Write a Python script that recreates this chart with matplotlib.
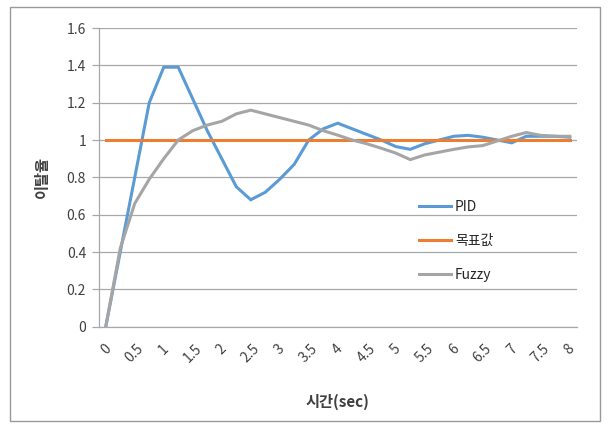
import matplotlib
matplotlib.use("Agg")
import matplotlib.pyplot as plt
from matplotlib.patches import Rectangle

plt.rcParams['font.family'] = ['Noto Sans CJK KR', 'DejaVu Sans']

# Time samples (sec), every 0.25 s
time = [0, 0.25, 0.5, 0.75, 1, 1.25, 1.5, 1.75, 2, 2.25, 2.5, 2.75, 3, 3.25,
        3.5, 3.75, 4, 4.25, 4.5, 4.75, 5, 5.25, 5.5, 5.75, 6, 6.25, 6.5, 6.75,
        7, 7.25, 7.5, 7.75, 8]

pid = [0, 0.40, 0.80, 1.20, 1.39, 1.39, 1.22, 1.05, 0.90, 0.75, 0.68, 0.72,
       0.79, 0.87, 1.00, 1.06, 1.09, 1.06, 1.03, 1.00, 0.965, 0.95, 0.98,
       1.00, 1.02, 1.025, 1.015, 1.00, 0.985, 1.02, 1.02, 1.02, 1.015]

target = [1.0] * 33

fuzzy = [0, 0.42, 0.66, 0.79, 0.90, 1.00, 1.05, 1.08, 1.10, 1.14, 1.16, 1.14,
         1.12, 1.10, 1.08, 1.05, 1.026, 1.00, 0.98, 0.956, 0.93, 0.895, 0.92,
         0.935, 0.95, 0.963, 0.97, 0.995, 1.02, 1.04, 1.025, 1.02, 1.02]

tick_pos = [0, 0.5, 1, 1.5, 2, 2.5, 3, 3.5, 4, 4.5, 5, 5.5, 6, 6.5, 7, 7.5, 8]
tick_labels = ["0", "0.5", "1", "1.5", "2", "2.5", "3", "3.5", "4", "4.5",
               "5", "5.5", "6", "6.5", "7", "7.5", "8"]
y_ticks = [0, 0.2, 0.4, 0.6, 0.8, 1, 1.2, 1.4, 1.6]
y_labels = ["0", "0.2", "0.4", "0.6", "0.8", "1", "1.2", "1.4", "1.6"]

W, H = 609, 428
fig = plt.figure(figsize=(W / 100, H / 100), dpi=100)
fig.patch.set_facecolor("white")

# outer chart frame
fig.patches.append(Rectangle((10 / W, 1 - 421 / H), 590 / W, 414 / H,
                             transform=fig.transFigure, fill=False,
                             edgecolor="#9a9a9a", linewidth=1.0))

ax = fig.add_axes([98.5 / W, 1 - 326.7 / H, (577 - 98.5) / W, (326.7 - 28) / H])

grid_c = "#a8a8a8"
text_c = "#404040"

ax.plot(time, pid, color="#5B9BD5", lw=2.2, label="PID", zorder=3,
        solid_joinstyle="miter")
ax.plot(time, target, color="#ED7D31", lw=2.2, label="목표값", zorder=4)
ax.plot(time, fuzzy, color="#A5A5A5", lw=2.2, label="Fuzzy", zorder=5,
        solid_joinstyle="miter")

ax.set_xlim(-0.125, 8.125)
ax.set_ylim(0, 1.6)
ax.set_yticks(y_ticks)
ax.set_yticklabels(y_labels, fontsize=10, color=text_c)
ax.set_xticks(tick_pos)
ax.set_xticklabels(tick_labels, fontsize=10, color=text_c, rotation=45,
                   ha="center")

ax.yaxis.grid(True, color=grid_c, lw=0.9)
ax.set_axisbelow(True)
for s in ["top", "right"]:
    ax.spines[s].set_visible(False)
ax.spines["left"].set_color(grid_c)
ax.spines["bottom"].set_color(grid_c)
ax.spines["left"].set_linewidth(0.9)
ax.spines["bottom"].set_linewidth(0.9)
ax.tick_params(axis="y", length=5, color=grid_c, width=0.9, pad=4)
ax.tick_params(axis="x", length=0, pad=11)

ax.set_ylabel("이탈율", fontsize=11, fontweight="bold", color=text_c,
              labelpad=12)
ax.set_xlabel("시간(sec)", fontsize=11, fontweight="bold", color=text_c,
              labelpad=20)

leg = ax.legend(loc="center left", bbox_to_anchor=(0.655, 0.287),
                frameon=False, fontsize=10, labelspacing=1.45,
                handlelength=2.3, handletextpad=0.3, borderpad=0)
for t in leg.get_texts():
    t.set_color("#262626")

fig.savefig("out.png", dpi=100, facecolor="white")
